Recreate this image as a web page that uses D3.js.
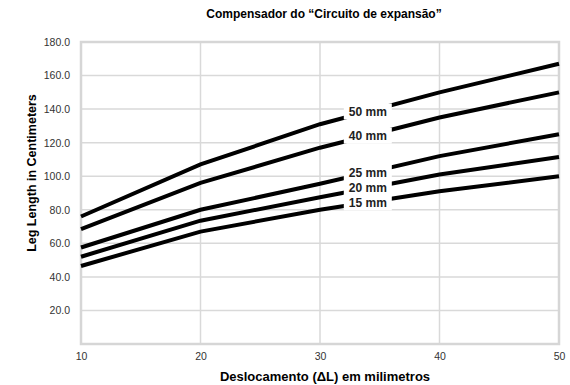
<!DOCTYPE html>
<html>
<head>
<meta charset="utf-8">
<script src="https://cdn.jsdelivr.net/npm/d3@7"></script>
<style>
  body { margin: 0; background: #fff; }
  .tick text { font-family: "Liberation Sans", Arial, sans-serif; font-size: 10.5px; fill: #333; }
</style>
</head>
<body>
<div id="chart"></div>
<script>
// chart values
var xValues = [10, 20, 30, 40, 50];
var yTicks = [20, 40, 60, 80, 100, 120, 140, 160, 180];
var seriesNames = ["15 mm", "20 mm", "25 mm", "40 mm", "50 mm"];
var s15 = [46.5, 67, 80, 91, 100];
var s20 = [52, 73.5, 87.5, 101, 111.5];
var s25 = [57.5, 80, 95.5, 112, 125];
var s40 = [68.5, 96, 117, 135, 150];
var s50 = [76, 107, 131, 150, 167];
var seriesValues = [s15, s20, s25, s40, s50];

var svgWidth = 570;
var svgHeight = 385;
var margin = {top: 42, right: 11, bottom: 41, left: 81};
var width = svgWidth - margin.left - margin.right;
var height = svgHeight - margin.top - margin.bottom;

var svg = d3.select("#chart").append("svg")
  .attr("width", svgWidth).attr("height", svgHeight);

var chartGroup = svg.append("g")
  .attr("transform", `translate(${margin.left}, ${margin.top})`);

var x = d3.scaleLinear().domain([10, 50]).range([0, width]);
var y = d3.scaleLinear().domain([0, 180]).range([height, 0]);

// gridlines
chartGroup.append("g").selectAll("line")
  .data(yTicks.slice(0, -1)).enter().append("line")
  .attr("x1", 0).attr("x2", width)
  .attr("y1", d => y(d)).attr("y2", d => y(d))
  .attr("stroke", "#d9d9d9").attr("stroke-width", 1.5);

chartGroup.append("g").selectAll("line")
  .data(xValues.slice(1, -1)).enter().append("line")
  .attr("x1", d => x(d)).attr("x2", d => x(d))
  .attr("y1", 0).attr("y2", height)
  .attr("stroke", "#d9d9d9").attr("stroke-width", 1.5);

// plot frame
chartGroup.append("rect")
  .attr("x", 0).attr("y", 0).attr("width", width).attr("height", height)
  .attr("fill", "none").attr("stroke", "#d6d6d6").attr("stroke-width", 2.5);

// axes (labels only)
var yAxis = d3.axisLeft(y).tickValues(yTicks).tickFormat(d3.format(".1f")).tickSize(0).tickPadding(11);
chartGroup.append("g").call(yAxis).call(g => g.select(".domain").remove());

var xAxis = d3.axisBottom(x).tickValues(xValues).tickSize(0).tickPadding(9);
chartGroup.append("g").attr("transform", `translate(0, ${height})`)
  .call(xAxis).call(g => g.select(".domain").remove());

// lines
var line = d3.line().x((d, i) => x(xValues[i])).y(d => y(d));
chartGroup.append("g").selectAll("path")
  .data(seriesValues).enter().append("path")
  .attr("d", d => line(d))
  .attr("fill", "none").attr("stroke", "#000").attr("stroke-width", 4);

// series labels with white knockout
var labelX = 34;
var labels = chartGroup.append("g").selectAll("g")
  .data(seriesNames).enter().append("g")
  .attr("transform", (d, i) => {
    var v = seriesValues[i];
    var val = v[2] + (v[3] - v[2]) * (labelX - 30) / 10;
    return `translate(${x(labelX)}, ${y(val)})`;
  });
labels.append("rect")
  .attr("x", -24).attr("y", -8).attr("width", 48).attr("height", 16)
  .attr("fill", "#fff");
labels.append("text")
  .attr("text-anchor", "middle").attr("dy", "0.35em")
  .attr("font-family", "Liberation Sans, Arial, sans-serif")
  .attr("font-weight", "bold").attr("font-size", "12px").attr("fill", "#222")
  .text(d => d);

// title and axis titles
svg.append("text")
  .attr("x", margin.left + width / 2 + 4).attr("y", 18)
  .attr("text-anchor", "middle")
  .attr("font-family", "Liberation Sans, Arial, sans-serif")
  .attr("font-weight", "bold").attr("font-size", "12px")
  .text("Compensador do “Circuito de expansão”");

svg.append("text")
  .attr("x", margin.left + width / 2 + 5).attr("y", 381)
  .attr("text-anchor", "middle")
  .attr("font-family", "Liberation Sans, Arial, sans-serif")
  .attr("font-weight", "bold").attr("font-size", "13px")
  .text("Deslocamento (ΔL) em milimetros");

svg.append("text")
  .attr("transform", "rotate(-90)")
  .attr("x", -173).attr("y", 36)
  .attr("text-anchor", "middle")
  .attr("font-family", "Liberation Sans, Arial, sans-serif")
  .attr("font-weight", "bold").attr("font-size", "12.5px")
  .text("Leg Length in Centimeters");
</script>
</body>
</html>
